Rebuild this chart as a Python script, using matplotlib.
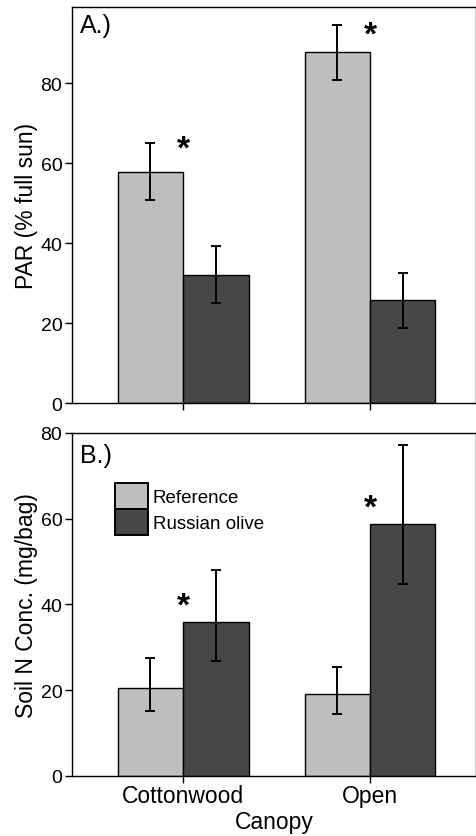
import numpy as np
import matplotlib
matplotlib.use('Agg')
import matplotlib.pyplot as plt
from matplotlib.patches import Patch

plt.rcParams['font.family'] = ['Liberation Sans', 'DejaVu Sans']

canopy = ['Cottonwood', 'Open']
series = ['Reference', 'Russian olive']

# A.) PAR (% full sun)
par_ref = [57.8, 87.7]
par_ref_lo = [7.1, 6.9]
par_ref_hi = [7.3, 6.9]
par_ro = [32.1, 25.7]
par_ro_lo = [7.2, 6.9]
par_ro_hi = [7.1, 6.9]

# B.) Soil N conc. (mg/bag)
n_ref = [20.4, 19.1]
n_ref_lo = [5.2, 4.7]
n_ref_hi = [7.1, 6.2]
n_ro = [35.9, 58.8]
n_ro_lo = [9.2, 14.0]
n_ro_hi = [12.2, 18.5]

c_ref = '#bebebe'
c_ro = '#474747'
w = 0.35
x = np.arange(len(canopy))

fig = plt.figure(figsize=(4.77, 8.37), dpi=100)
axA = fig.add_axes([0.151, 0.5173, 0.847, 0.4731])
axB = fig.add_axes([0.151, 0.072, 0.847, 0.4095])

def draw(ax, ref, rlo, rhi, ro, olo, ohi):
    ax.bar(x - w/2, ref, w, color=c_ref, edgecolor='black', linewidth=1.0, zorder=2)
    ax.bar(x + w/2, ro, w, color=c_ro, edgecolor='black', linewidth=1.0, zorder=2)
    ax.errorbar(x - w/2, ref, yerr=[rlo, rhi], fmt='none', ecolor='black',
                elinewidth=1.4, capsize=3.6, capthick=1.4, zorder=3)
    ax.errorbar(x + w/2, ro, yerr=[olo, ohi], fmt='none', ecolor='black',
                elinewidth=1.4, capsize=3.6, capthick=1.4, zorder=3)
    ax.set_xlim(-0.594, 1.567)
    ax.set_xticks(x)
    ax.tick_params(axis='y', direction='out', length=5, width=1, labelsize=14, pad=2)
    ax.tick_params(axis='x', direction='out', length=5, width=1, labelsize=16.5, pad=1)
    for s in ax.spines.values():
        s.set_linewidth(1)

draw(axA, par_ref, par_ref_lo, par_ref_hi, par_ro, par_ro_lo, par_ro_hi)
axA.set_ylim(0, 99)
axA.set_yticks([0, 20, 40, 60, 80])
axA.set_xticklabels([])
axA.set_ylabel('PAR (% full sun)', fontsize=16.5, labelpad=2)
axA.text(0.02, 0.985, 'A.)', transform=axA.transAxes, fontsize=18, va='top', ha='left')
# significance stars
axA.text(0, 63.5, '*', fontsize=24, ha='center', va='center', fontweight='bold')
axA.text(1, 92.0, '*', fontsize=24, ha='center', va='center', fontweight='bold')

draw(axB, n_ref, n_ref_lo, n_ref_hi, n_ro, n_ro_lo, n_ro_hi)
axB.set_ylim(0, 80)
axB.set_yticks([0, 20, 40, 60, 80])
axB.set_xticklabels(canopy)
axB.set_ylabel('Soil N Conc. (mg/bag)', fontsize=16.5, labelpad=2)
axB.set_xlabel('Canopy', fontsize=16.5, labelpad=2)
axB.text(0.02, 0.97, 'B.)', transform=axB.transAxes, fontsize=18, va='top', ha='left')
axB.text(0, 39.5, '*', fontsize=24, ha='center', va='center', fontweight='bold')
axB.text(1, 62.5, '*', fontsize=24, ha='center', va='center', fontweight='bold')

handles = [Patch(facecolor=c_ref, edgecolor='black', linewidth=1.4),
           Patch(facecolor=c_ro, edgecolor='black', linewidth=1.4)]
axB.legend(handles, series, loc='upper left', bbox_to_anchor=(0.106, 0.855),
           frameon=False, fontsize=13.5, handlelength=1.76, handleheight=1.76,
           handletextpad=0.25, labelspacing=0.0, borderaxespad=0, borderpad=0)

fig.savefig('out.png', dpi=100)
